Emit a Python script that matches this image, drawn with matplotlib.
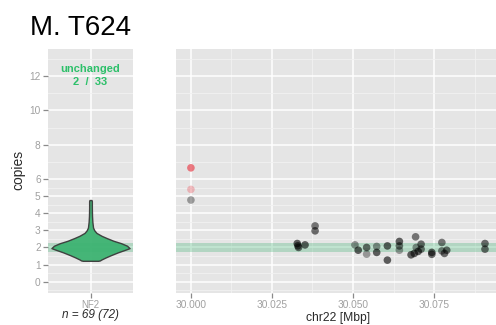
import matplotlib
matplotlib.use('Agg')
import matplotlib.pyplot as plt

plt.rcParams['font.family'] = ['Liberation Sans', 'DejaVu Sans']

# ---------- data ----------
title = 'M. T624'
gene = 'NF2'
n_label = 'n = 69 (72)'
status = 'unchanged'
status_count = '2  /  33'

band_low, band_high = 1.75, 2.28

# violin profile (copies, half width as fraction of the category slot)
violin_y = [1.22, 1.24, 1.30, 1.42, 1.55, 1.71, 1.85, 1.96, 2.10, 2.25, 2.39,
            2.55, 2.68, 2.85, 3.00, 3.16, 3.50, 3.84, 4.30, 4.70, 4.77]
violin_w = [0.09, 0.11, 0.13, 0.18, 0.24, 0.32, 0.40, 0.46, 0.43, 0.36, 0.27,
            0.19, 0.13, 0.07, 0.045, 0.03, 0.022, 0.018, 0.016, 0.016, 0.012]

# probes along chr22
pos = [30.0328, 30.0330, 30.0332, 30.0352, 30.0383, 30.0383,
       30.0506, 30.0516, 30.0542, 30.0542, 30.0573, 30.0573,
       30.0606, 30.0606, 30.0643, 30.0643, 30.0643, 30.0679,
       30.0689, 30.0693, 30.0695, 30.0701, 30.0710, 30.0710,
       30.0743, 30.0743, 30.0774, 30.0774, 30.0782, 30.0789,
       30.0907, 30.0907, 30.0000]
cn = [2.23, 2.10, 2.00, 2.15, 3.26, 2.97,
      2.15, 1.84, 2.00, 1.61, 2.06, 1.71,
      2.09, 1.26, 2.35, 2.09, 1.84, 1.57,
      1.65, 2.62, 2.00, 1.77, 2.19, 1.90,
      1.71, 1.60, 2.29, 1.80, 1.65, 1.84,
      2.23, 1.90, 4.77]
alpha_pts = [0.6, 0.55, 0.55, 0.6, 0.5, 0.55,
             0.4, 0.6, 0.55, 0.35, 0.4, 0.6,
             0.6, 0.6, 0.6, 0.5, 0.35, 0.6,
             0.6, 0.5, 0.4, 0.6, 0.55, 0.5,
             0.6, 0.55, 0.5, 0.45, 0.55, 0.55,
             0.55, 0.55, 0.35]

red_pos = [30.0000, 30.0000]
red_cn = [6.65, 5.39]
red_alpha = [0.75, 0.35]

y_major = [0, 1, 2, 3, 4, 5, 6, 8, 10, 12]
y_minor = [-0.5, 0.5, 1.5, 2.5, 3.5, 4.5, 5.5, 7, 9, 11, 13]
x_major = [30.000, 30.025, 30.050, 30.075]
x_minor = [30.0125, 30.0375, 30.0625, 30.0875]
x_labels = ['30.000', '30.025', '30.050', '30.075']

ylim = (-0.66, 13.59)
green = '#3cb371'
txt_green = '#2dc06a'
grey_txt = '#a0a0a0'
dark_txt = '#2a2a2a'

W, H = 496, 325
fig = plt.figure(figsize=(W / 100, H / 100), dpi=100)
ax1 = fig.add_axes([48/W, 1-293/H, 85/W, 244/H])
ax2 = fig.add_axes([176/W, 1-293/H, 320/W, 244/H])

for ax in (ax1, ax2):
    ax.set_facecolor('#e5e5e5')
    for s in ax.spines.values():
        s.set_visible(False)
    ax.set_ylim(*ylim)
    ax.set_yticks(y_major)
    ax.set_yticks(y_minor, minor=True)
    ax.grid(which='major', color='white', lw=1.1)
    ax.grid(which='minor', color='#f2f2f2', lw=0.6)
    ax.set_axisbelow(True)
    ax.tick_params(which='minor', length=0)
    ax.tick_params(which='major', color='#8a8a8a', length=3.3, width=0.9,
                   labelcolor=grey_txt, labelsize=7.3, pad=2)
    ax.axhspan(band_low, band_high, color=green, alpha=0.3, lw=0, zorder=1)

# left panel: violin
ax1.set_xlim(-0.5, 0.5)
ax1.set_xticks([0])
ax1.set_xticklabels([gene], fontsize=7)
ax1.fill_betweenx(violin_y, [-w for w in violin_w], violin_w,
                  facecolor=green, edgecolor='#3a3a3a', lw=1.0, alpha=0.95, zorder=3)
ax1.text(0, 12.45, status, color=txt_green, fontsize=8, fontweight='bold',
         ha='center', va='center')
ax1.text(0, 11.67, status_count, color=txt_green, fontsize=8, fontweight='bold',
         ha='center', va='center')

# right panel: probes
ax2.set_xlim(29.9954, 30.0941)
ax2.set_xticks(x_major)
ax2.set_xticks(x_minor, minor=True)
ax2.set_xticklabels(x_labels)
ax2.tick_params(axis='y', which='both', length=0, labelleft=False)
ax2.scatter(pos, cn, s=30, color='black', alpha=alpha_pts, lw=0, zorder=3)
ax2.scatter(red_pos, red_cn, s=30, color='#e8505a', alpha=red_alpha, lw=0, zorder=3)

# axis titles placed like the ggplot output
fig.text(18/W, 1-170/H, 'copies', fontsize=10, color=dark_txt, rotation=90,
         ha='center', va='center')
fig.text(90/W, 1-318/H, n_label, fontsize=8.5, style='italic', color=dark_txt,
         ha='center', va='baseline')
fig.text(338/W, 1-321/H, 'chr22 [Mbp]', fontsize=8.7, color=dark_txt,
         ha='center', va='baseline')

fig.text(30/W, 1-35/H, title, fontsize=20, va='baseline', ha='left')

fig.savefig('out.png', dpi=100)
